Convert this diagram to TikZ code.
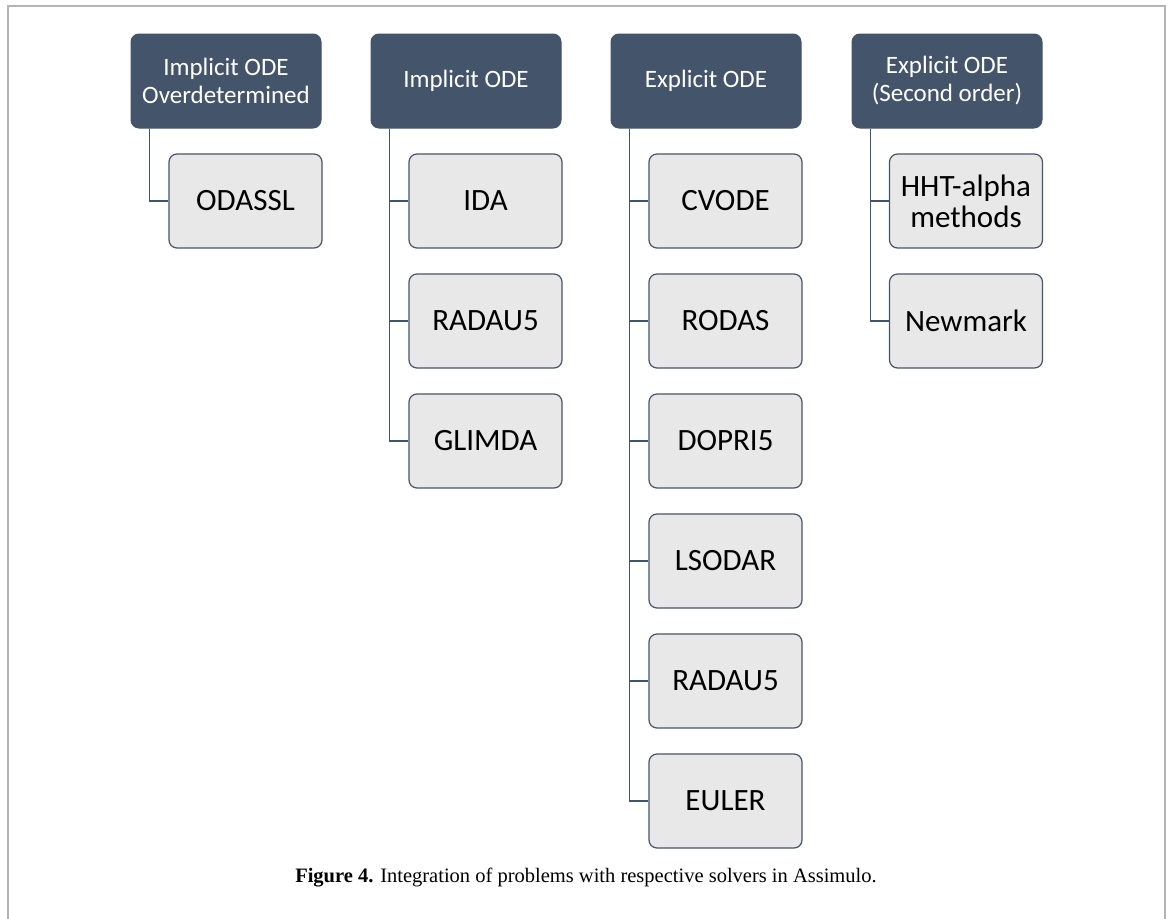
\documentclass[tikz,border=0pt]{standalone}
\usepackage{fontspec}
\setmainfont{Liberation Serif}
\newfontfamily\calibri{Carlito}
\usetikzlibrary{positioning}
\definecolor{slate}{HTML}{44546A}
\definecolor{boxgray}{HTML}{E8E8E8}
\definecolor{framegray}{HTML}{B4B4B4}

\begin{document}
\begin{tikzpicture}[x=1pt,y=-1pt]
        % Define styles for shapes
        \tikzstyle{problem} = [draw=slate, fill=slate, rounded corners=8pt, minimum width=190pt, minimum height=94pt, text=white, align=center, font=\calibri\fontsize{25}{28}\selectfont, line width=1pt]
        \tikzstyle{solver} = [draw=slate, fill=boxgray, rounded corners=8pt, minimum width=153pt, minimum height=94pt, align=center, font=\calibri\fontsize{31}{31}\selectfont, line width=1.2pt]
        \tikzstyle{link} = [draw=slate, line width=1.3pt]

        \useasboundingbox (0,0) rectangle (1171,919);
        % Frame
        \draw[framegray, line width=1.2pt] (8,919) -- (8,6) -- (1165,6) -- (1165,919);

        % Problem classes
        \node[problem] (impover) at (226, 81) {Implicit ODE\\Overdetermined};
        \node[problem] (impl) at (466, 81) {Implicit ODE};
        \node[problem] (expl) at (706, 81) {Explicit ODE};
        \node[problem] (second) at (947, 81) {Explicit ODE\\(Second order)};

        % Solvers
        \node[solver] (odassl) at (245.5, 201) {ODASSL};

        \node[solver] (ida) at (485.5, 201) {IDA};
        \node[solver] (radauimp) at (485.5, 321) {RADAU5};
        \node[solver] (glimda) at (485.5, 441) {GLIMDA};

        \node[solver] (cvode) at (725.5, 201) {CVODE};
        \node[solver] (rodas) at (725.5, 321) {RODAS};
        \node[solver] (dopri) at (725.5, 441) {DOPRI5};
        \node[solver] (lsodar) at (725.5, 561) {LSODAR};
        \node[solver] (radauexp) at (725.5, 681) {RADAU5};
        \node[solver] (euler) at (725.5, 801) {EULER};

        \node[solver] (hht) at (966, 201) {HHT-alpha\\methods};
        \node[solver] (newmark) at (966, 321) {Newmark};

        % Connectors
        \draw[link] ([xshift=19pt]impover.south west) |- (odassl.west);

        \draw[link] ([xshift=19pt]impl.south west) |- (glimda.west);
        \draw[link] ([xshift=19pt]impl.south west) |- (ida.west);
        \draw[link] ([xshift=19pt]impl.south west) |- (radauimp.west);

        \draw[link] ([xshift=19pt]expl.south west) |- (euler.west);
        \draw[link] ([xshift=19pt]expl.south west) |- (cvode.west);
        \draw[link] ([xshift=19pt]expl.south west) |- (rodas.west);
        \draw[link] ([xshift=19pt]expl.south west) |- (dopri.west);
        \draw[link] ([xshift=19pt]expl.south west) |- (lsodar.west);
        \draw[link] ([xshift=19pt]expl.south west) |- (radauexp.west);

        \draw[link] ([xshift=19pt]second.south west) |- (newmark.west);
        \draw[link] ([xshift=19pt]second.south west) |- (hht.west);

        % Caption
        \node[font=\fontsize{20.5}{22}\selectfont] (caption) at (586, 878) {\textbf{Figure 4.} Integration of problems with respective solvers in Assimulo.};
    \end{tikzpicture}
\end{document}
